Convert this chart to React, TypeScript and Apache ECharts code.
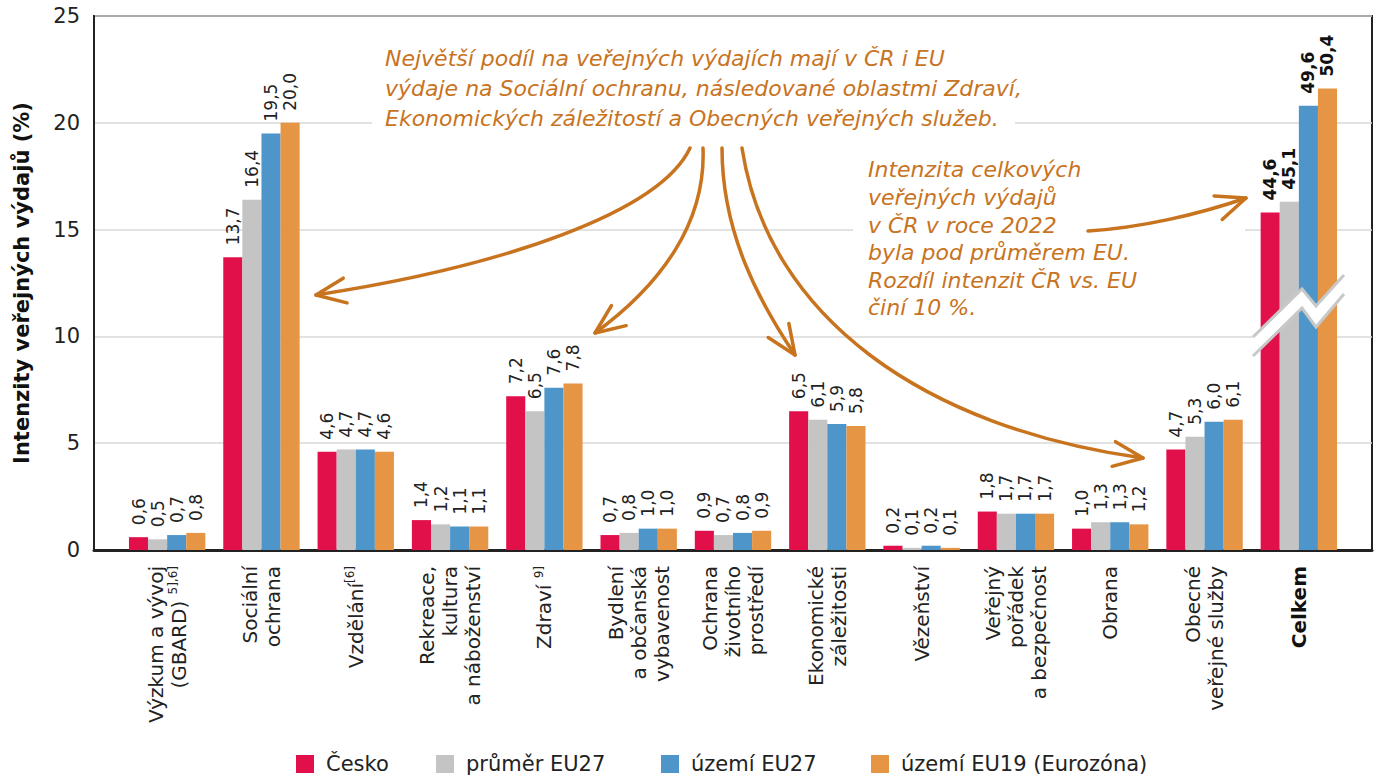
import React, { useEffect, useRef } from "react";
import * as echarts from "echarts";

const categories = [
  "Výzkum a vývoj\n(GBARD) {s|5],6]}",
  "Sociální\nochrana",
  "Vzdělání{s|[6]}",
  "Rekreace,\nkultura\na náboženství",
  "Zdraví {s|9]}",
  "Bydlení\na občanská\nvybavenost",
  "Ochrana\nživotního\nprostředí",
  "Ekonomické\nzáležitosti",
  "Vězeňství",
  "Veřejný\npořádek\na bezpečnost",
  "Obrana",
  "Obecné\nveřejné služby",
  "{b|Celkem}",
];

const seriesNames = ["Česko", "průměr EU27", "území EU27", "území EU19 (Eurozóna)"];
const cesko = [0.6, 13.7, 4.6, 1.4, 7.2, 0.7, 0.9, 6.5, 0.2, 1.8, 1.0, 4.7, 44.6];
const prumerEU27 = [0.5, 16.4, 4.7, 1.2, 6.5, 0.8, 0.7, 6.1, 0.1, 1.7, 1.3, 5.3, 45.1];
const uzemiEU27 = [0.7, 19.5, 4.7, 1.1, 7.6, 1.0, 0.8, 5.9, 0.2, 1.7, 1.3, 6.0, 49.6];
const uzemiEU19 = [0.8, 20.0, 4.6, 1.1, 7.8, 1.0, 0.9, 5.8, 0.1, 1.7, 1.2, 6.1, 50.4];
const seriesValues = [cesko, prumerEU27, uzemiEU27, uzemiEU19];
const colors = ["#E2104A", "#C4C4C4", "#4E95C9", "#E69545"];

// broken-axis offset used for the "Celkem" group
const CELKEM_INDEX = 12;
const AXIS_BREAK = 28.8;

const yTicks = { min: 0, max: 25, interval: 5 };

const note1 =
  "Největší podíl na veřejných výdajích mají v ČR i EU\nvýdaje na Sociální ochranu, následované oblastmi Zdraví,\nEkonomických záležitostí a Obecných veřejných služeb.";
const note2 =
  "Intenzita celkových\nveřejných výdajů\nv ČR v roce 2022\nbyla pod průměrem EU.\nRozdíl intenzit ČR vs. EU\nčiní 10 %.";

const FONT = "'DejaVu Sans', 'Noto Sans', sans-serif";
const NOTE_COLOR = "#C8731E";

const fmt = (v: number) => v.toFixed(1).replace(".", ",");

type P = [number, number];
const arrows: { p0: P; p1: P; p2: P; p3: P }[] = [
  { p0: [690, 148], p1: [660, 212], p2: [505, 266], p3: [316, 295] },
  { p0: [703, 148], p1: [706, 222], p2: [662, 284], p3: [595, 333] },
  { p0: [722, 148], p1: [722, 232], p2: [758, 300], p3: [795, 355] },
  { p0: [742, 148], p1: [768, 318], p2: [925, 428], p3: [1143, 458] },
  { p0: [1088, 231], p1: [1140, 228], p2: [1200, 214], p3: [1246, 198] },
];

function arrowElements() {
  const els: any[] = [];
  arrows.forEach((a) => {
    els.push({
      type: "bezierCurve",
      z: 50,
      shape: {
        x1: a.p0[0], y1: a.p0[1],
        cpx1: a.p1[0], cpy1: a.p1[1],
        cpx2: a.p2[0], cpy2: a.p2[1],
        x2: a.p3[0], y2: a.p3[1],
      },
      style: { stroke: NOTE_COLOR, lineWidth: 3.5, fill: "none", lineCap: "round" },
    });
    const dx = a.p3[0] - a.p2[0];
    const dy = a.p3[1] - a.p2[1];
    const ang = Math.atan2(dy, dx);
    const len = 32;
    const spread = 0.4;
    const b1: P = [a.p3[0] - len * Math.cos(ang - spread), a.p3[1] - len * Math.sin(ang - spread)];
    const b2: P = [a.p3[0] - len * Math.cos(ang + spread), a.p3[1] - len * Math.sin(ang + spread)];
    els.push({
      type: "polyline",
      z: 50,
      shape: { points: [b1, a.p3, b2] },
      style: { stroke: NOTE_COLOR, lineWidth: 3.5, fill: "none", lineCap: "round", lineJoin: "round" },
    });
  });
  return els;
}

export default function App() {
  const ref = useRef<HTMLDivElement>(null);

  useEffect(() => {
    if (!ref.current) return;
    const chart = echarts.init(ref.current, undefined, { renderer: "svg" });

    const breakTop: P[] = [[1253, 337], [1302, 289], [1316, 306], [1344, 275]];
    const breakBottom: P[] = [[1253, 356], [1302, 308], [1316, 327], [1344, 294]];

    const option: any = {
      animation: false,
      textStyle: { fontFamily: FONT },
      grid: [
        { left: 94, right: 6, top: 16, bottom: 230, show: true, borderColor: "#222", borderWidth: 2 },
        { left: 120, right: 32, top: 16, bottom: 230 },
      ],
      xAxis: [
        {
          gridIndex: 0,
          type: "value",
          min: 0,
          max: 1,
          axisLine: { show: true, onZero: false, lineStyle: { color: "#222", width: 3 } },
          axisLabel: { show: false },
          axisTick: { show: false },
          splitLine: { show: false },
        },
        {
          gridIndex: 1,
          type: "category",
          data: categories,
          axisLine: { show: false },
          axisTick: { show: false },
          axisLabel: {
            interval: 0,
            rotate: 90,
            margin: 16,
            fontSize: 20,
            lineHeight: 23,
            color: "#222",
            fontFamily: FONT,
            rich: {
              s: { fontSize: 12, lineHeight: 23, verticalAlign: "top", color: "#222", fontFamily: FONT },
              b: { fontSize: 20, lineHeight: 23, fontWeight: "bold", color: "#111", fontFamily: FONT },
            },
          },
        },
      ],
      yAxis: [
        {
          gridIndex: 0,
          type: "value",
          ...yTicks,
          name: "Intenzity veřejných výdajů (%)",
          nameLocation: "middle",
          nameRotate: 90,
          nameGap: 62,
          nameTextStyle: { fontSize: 21, fontWeight: "bold", color: "#111", fontFamily: FONT },
          axisLine: { show: true, lineStyle: { color: "#222", width: 2 } },
          axisTick: { show: false },
          axisLabel: { fontSize: 21, color: "#222", margin: 14, fontFamily: FONT },
          splitLine: { show: true, lineStyle: { color: "#D9D9D9", width: 1.5 } },
        },
        { gridIndex: 1, type: "value", ...yTicks, show: false, splitLine: { show: false } },
      ],
      legend: seriesNames.map((n, i) => ({
        data: [n],
        left: [296, 436, 661, 871][i],
        top: 753,
        padding: 0,
        itemWidth: 18,
        itemHeight: 18,
        icon: "rect",
        selectedMode: false,
        textStyle: { fontSize: 21, lineHeight: 22, color: "#222", fontFamily: FONT, padding: [0, 0, 0, 7] },
      })),
      series: seriesNames.map((name, si) => ({
        name,
        type: "bar",
        xAxisIndex: 1,
        yAxisIndex: 1,
        barGap: "0%",
        barCategoryGap: "19%",
        itemStyle: { color: colors[si] },
        data: seriesValues[si].map((v, i) =>
          i === CELKEM_INDEX
            ? { value: +(v - AXIS_BREAK).toFixed(2), label: { fontWeight: "bold", color: "#111" } }
            : v
        ),
        label: {
          show: true,
          position: "top",
          rotate: 90,
          align: "left",
          verticalAlign: "middle",
          distance: 12,
          fontSize: 17,
          color: "#222",
          fontFamily: FONT,
          formatter: (p: any) => fmt(seriesValues[p.seriesIndex][p.dataIndex]),
        },
      })),
      graphic: {
        elements: [
          { type: "rect", z: 1, shape: { x: 372, y: 40, width: 643, height: 92 }, style: { fill: "#fff" } },
          { type: "rect", z: 1, shape: { x: 853, y: 156, width: 392, height: 166 }, style: { fill: "#fff" } },
          {
            type: "text",
            z: 60,
            x: 385,
            y: 43,
            style: {
              text: note1,
              fill: NOTE_COLOR,
              fontSize: 22,
              fontStyle: "italic",
              fontFamily: FONT,
              lineHeight: 30,
              align: "left",
              verticalAlign: "top",
            },
          },
          {
            type: "text",
            z: 60,
            x: 868,
            y: 156,
            style: {
              text: note2,
              fill: NOTE_COLOR,
              fontSize: 22,
              fontStyle: "italic",
              fontFamily: FONT,
              lineHeight: 27.6,
              align: "left",
              verticalAlign: "top",
            },
          },
          ...arrowElements(),
          {
            type: "polygon",
            z: 70,
            shape: { points: [...breakTop, ...breakBottom.slice().reverse()] },
            style: { fill: "#fff", stroke: "none" },
          },
          { type: "polyline", z: 71, shape: { points: breakTop }, style: { stroke: "#C8C8C8", lineWidth: 3, fill: "none" } },
          { type: "polyline", z: 71, shape: { points: breakBottom }, style: { stroke: "#C8C8C8", lineWidth: 3, fill: "none" } },
        ],
      },
    };

    chart.setOption(option);
    return () => chart.dispose();
  }, []);

  return (
    <div
      ref={ref}
      style={{ position: "fixed", left: 0, top: 0, width: 1378, height: 780, background: "#fff" }}
    />
  );
}
